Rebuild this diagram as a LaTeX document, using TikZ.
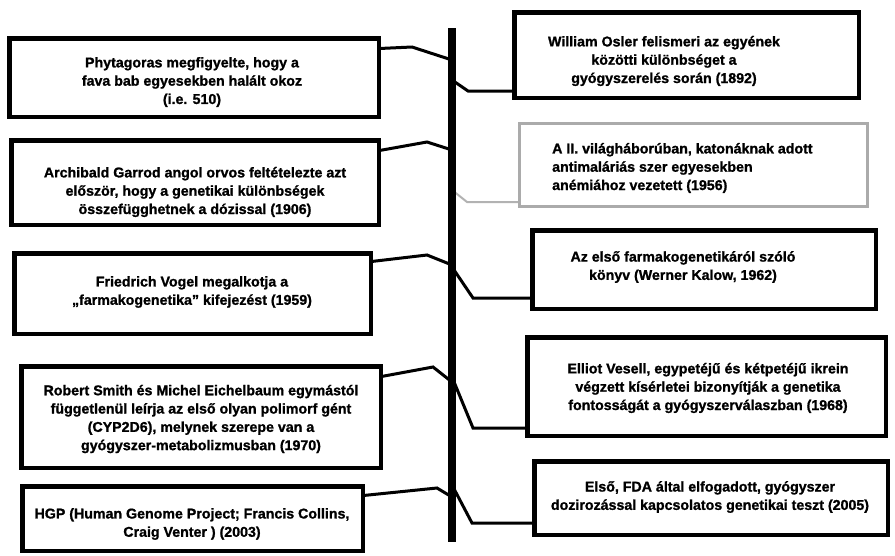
\documentclass[tikz,border=0pt]{standalone}
\usepackage{fontspec}
\setmainfont[BoldFeatures={FakeBold=1.2}]{Liberation Sans}
\usetikzlibrary{calc}
\tikzset{
  bx/.style={draw=black, line width=3pt, fill=white, inner sep=0pt},
  gbx/.style={draw=black!33, line width=2pt, fill=white, inner sep=0pt},
  txt/.style={font=\bfseries\fontsize{14.2}{18.3}\selectfont, align=center, inner sep=0pt},
  conn/.style={line width=3pt, line join=miter},
  gconn/.style={line width=2pt, draw=black!30},
  spine/.style={line width=8pt},
}
\begin{document}
\begin{tikzpicture}[x=1pt,y=-1pt]
\useasboundingbox[fill=white] (0,0) rectangle (895,555);

% boxes (left)
\node[bx, minimum width=368pt, minimum height=77pt] (l1) at (194,77.5) {};
\node[bx, minimum width=366pt, minimum height=83pt] (l2) at (195,182.5) {};
\node[bx, minimum width=355pt, minimum height=79pt] (l3) at (192.5,293.5) {};
\node[bx, minimum width=358pt, minimum height=100pt] (l4) at (201,417) {};
\node[bx, minimum width=339pt, minimum height=63pt] (l5) at (192.5,518.5) {};
% boxes (right)
\node[bx, minimum width=343pt, minimum height=84pt] (r1) at (686.5,55) {};
\node[gbx, minimum width=347pt, minimum height=82pt] (r2) at (693.5,165) {};
\node[bx, minimum width=342pt, minimum height=77pt] (r3) at (704,269.5) {};
\node[bx, minimum width=357pt, minimum height=97pt] (r4) at (706.5,386.5) {};
\node[bx, minimum width=352pt, minimum height=72pt] (r5) at (711,498) {};

% spine
\coordinate (top) at (452,28);
\coordinate (bot) at (452,542);

% connector bends and spine ends
\coordinate (b1) at (412,47);  \coordinate (e1) at (452,60);
\coordinate (b2) at (427,142); \coordinate (e2) at (452,150);
\coordinate (b3) at (427,255); \coordinate (e3) at (452,265);
\coordinate (b4) at (433,367); \coordinate (e4) at (452,382);
\coordinate (b5) at (437,488); \coordinate (e5) at (452,497);
\coordinate (c1) at (468,91);  \coordinate (f1) at (452,80);
\coordinate (c2) at (467,202); \coordinate (f2) at (452,190);
\coordinate (c3) at (473,298); \coordinate (f3) at (452,267);
\coordinate (c4) at (473,428); \coordinate (f4) at (452,377);
\coordinate (c5) at (472,523); \coordinate (f5) at (452,485);

\draw[conn] ([yshift=-11pt]l1.north east) -- (b1) -- (e1);
\draw[conn] ([yshift=-11pt]l2.north east) -- (b2) -- (e2);
\draw[conn] ([yshift=-9pt]l3.north east) -- (b3) -- (e3);
\draw[conn] ([yshift=-11pt]l4.north east) -- (b4) -- (e4);
\draw[conn] ([yshift=-10pt]l5.north east) -- (b5) -- (e5);
\draw[conn] (f1) -- (c1) -- (r1.west |- c1);
\draw[gconn] (f2) -- (c2) -- (r2.west |- c2);
\draw[conn] (f3) -- (c3) -- (r3.west |- c3);
\draw[conn] (f4) -- (c4) -- (r4.west |- c4);
\draw[conn] (f5) -- (c5) -- (r5.west |- c5);

\draw[spine] (top) -- (bot);

% redraw box borders over connector ends
\foreach \n in {l1,l2,l3,l4,l5,r1,r3,r4,r5}{
  \draw[line width=3pt] (\n.north west) rectangle (\n.south east);
}
\draw[draw=black!33, line width=2pt] (r2.north west) rectangle (r2.south east);

% texts
\node[txt] (l1t) at (192,82) {Phytagoras megfigyelte, hogy a\\fava bab egyesekben halált okoz\\(i.e. 510)};
\node[txt] (l2t) at (195,192) {Archibald Garrod angol orvos feltételezte azt\\először, hogy a genetikai különbségek\\összefügghetnek a dózissal (1906)};
\node[txt] (l3t) at (192,292) {Friedrich Vogel megalkotja a\\„farmakogenetika” kifejezést (1959)};
\node[txt] (l4t) at (201,419) {Robert Smith és Michel Eichelbaum egymástól\\függetlenül leírja az első olyan polimorf gént\\(CYP2D6), melynek szerepe van a\\gyógyszer-metabolizmusban (1970)};
\node[txt] (l5t) at (192,524) {HGP (Human Genome Project; Francis Collins,\\Craig Venter ) (2003)};

\node[txt] (r1t) at (664,61) {William Osler felismeri az egyének\\közötti különbséget a\\gyógyszerelés során (1892)};
\node[txt, align=left, anchor=west] (r2t) at (552,168) {A II. világháborúban, katonáknak adott\\antimaláriás szer egyesekben\\anémiához vezetett (1956)};
\node[txt] (r3t) at (683,267) {Az első farmakogenetikáról szóló\\könyv (Werner Kalow, 1962)};
\node[txt] (r4t) at (708,388) {Elliot Vesell, egypetéjű és kétpetéjű ikrein\\végzett kísérletei bizonyítják a genetika\\fontosságát a gyógyszerválaszban (1968)};
\node[txt] (r5t) at (710,497) {Első, FDA által elfogadott, gyógyszer\\dozirozással kapcsolatos genetikai teszt (2005)};
\end{tikzpicture}
\end{document}
